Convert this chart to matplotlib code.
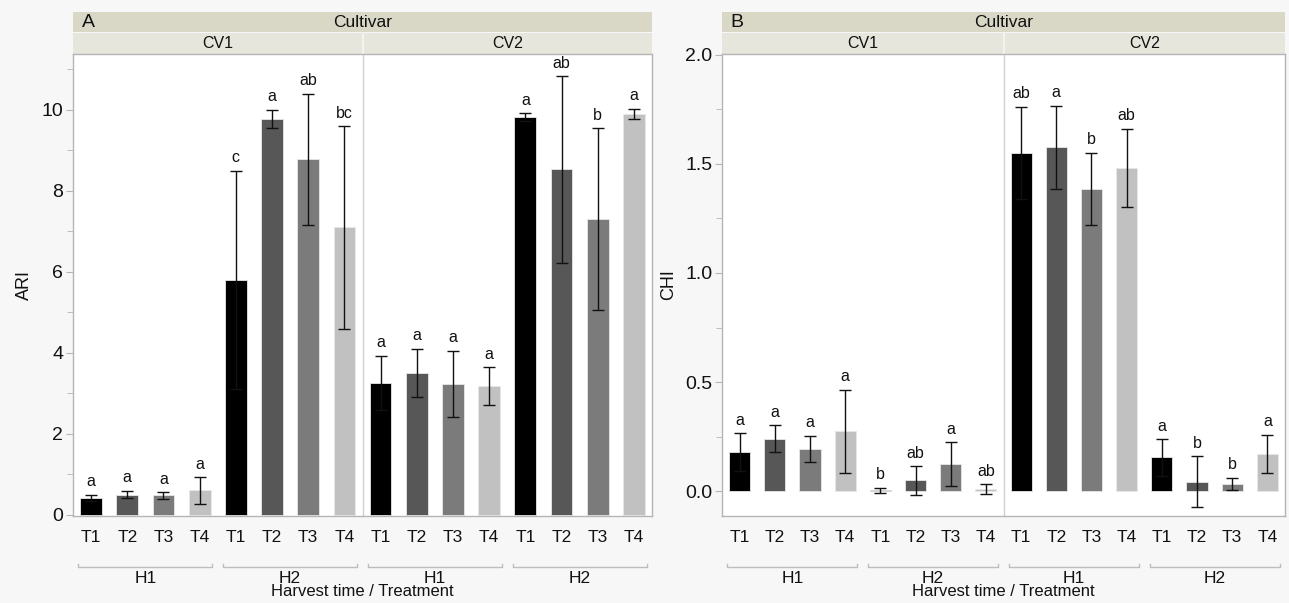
import matplotlib
matplotlib.use("Agg")
import matplotlib.pyplot as plt
from matplotlib.patches import Rectangle
from matplotlib.ticker import MultipleLocator
import numpy as np

plt.rcParams["font.family"] = ["Liberation Sans", "DejaVu Sans"]

treatments = ["T1", "T2", "T3", "T4"]
harvests = ["H1", "H2"]
cultivars = ["CV1", "CV2"]

# order: CV1-H1, CV1-H2, CV2-H1, CV2-H2 (T1..T4 each)
ari_mean = [0.42, 0.50, 0.48, 0.60,
            5.80, 9.78, 8.78, 7.10,
            3.26, 3.50, 3.23, 3.17,
            9.82, 8.53, 7.30, 9.90]
ari_err = [0.07, 0.09, 0.08, 0.33,
           2.70, 0.22, 1.62, 2.50,
           0.67, 0.60, 0.82, 0.47,
           0.10, 2.30, 2.25, 0.13]
ari_letters = ["a", "a", "a", "a",
               "c", "a", "ab", "bc",
               "a", "a", "a", "a",
               "a", "ab", "b", "a"]

chi_mean = [0.180, 0.240, 0.195, 0.275,
            0.005, 0.050, 0.125, 0.010,
            1.550, 1.575, 1.385, 1.480,
            0.155, 0.045, 0.035, 0.170]
chi_err = [0.085, 0.062, 0.060, 0.190,
           0.012, 0.065, 0.100, 0.022,
           0.212, 0.190, 0.165, 0.180,
           0.083, 0.115, 0.028, 0.088]
chi_letters = ["a", "a", "a", "a",
               "b", "ab", "a", "ab",
               "ab", "a", "b", "ab",
               "a", "b", "b", "a"]

bar_colors = ["#000000", "#575757", "#7b7b7b", "#c1c1c1"]
spine_c = "#b5b5b5"
band_top = "#d9d8c7"
band_cv = "#e6e6dc"

fig = plt.figure(figsize=(12.89, 6.03), dpi=100, facecolor="#f7f7f7")

H = 603.0
W = 1289.0
bottom = 1 - 516 / H
top = 1 - 54 / H
axA = fig.add_axes([73 / W, bottom, (652 - 73) / W, top - bottom])
axB = fig.add_axes([722 / W, bottom, (1285 - 722) / W, top - bottom])


def draw_panel(ax, means, errs, letters, ylim, major, minor, fmt, ylabel, tag, pad_pts):
    x = np.arange(16)
    cols = [bar_colors[i % 4] for i in range(16)]
    ax.bar(x, means, width=0.6, color=cols, edgecolor="#e8e8e8", linewidth=0.6, zorder=2)
    ax.errorbar(x, means, yerr=errs, fmt="none", ecolor="#111111", elinewidth=1.0,
                capsize=4, capthick=1.0, zorder=3)
    for i in range(16):
        ax.annotate(letters[i], (x[i], means[i] + errs[i]), xytext=(0, pad_pts),
                    textcoords="offset points", ha="center", va="bottom",
                    fontsize=11.5, color="#111111")

    ax.set_xlim(-0.5, 15.5)
    ax.set_ylim(*ylim)
    ax.set_facecolor("white")
    for s in ax.spines.values():
        s.set_color(spine_c)
        s.set_linewidth(1.0)
    ax.axvline(7.5, color="#d0d0d0", lw=1.0, zorder=1)

    ax.yaxis.set_major_locator(MultipleLocator(major))
    ax.yaxis.set_minor_locator(MultipleLocator(minor))
    ax.yaxis.set_major_formatter(plt.FuncFormatter(lambda v, _: fmt.format(v)))
    ax.tick_params(axis="y", which="major", length=5, color=spine_c, labelsize=14,
                   labelcolor="#111111", pad=2)
    ax.tick_params(axis="y", which="minor", length=4, color=spine_c)
    ax.set_ylabel(ylabel, fontsize=13, color="#111111", labelpad=6)

    ax.set_xticks(x)
    ax.set_xticklabels(treatments * 4, fontsize=12.5, color="#111111")
    ax.tick_params(axis="x", length=0, pad=10)

    # header bands
    trans = ax.transAxes
    ax.add_patch(Rectangle((0, 1.0), 1, 0.046, transform=trans, clip_on=False,
                           facecolor=band_cv, edgecolor="none"))
    ax.add_patch(Rectangle((0, 1.047), 1, 0.044, transform=trans, clip_on=False,
                           facecolor=band_top, edgecolor="none"))
    ax.plot([0.5, 0.5], [1.0, 1.046], transform=trans, clip_on=False,
            color="#f4f4ee", lw=1.5)
    ax.text(0.5, 1.069, "Cultivar", transform=trans, ha="center", va="center",
            fontsize=12.5, color="#111111")
    ax.text(0.015, 1.069, tag, transform=trans, ha="left", va="center",
            fontsize=14, color="#111111")
    for j, cv in enumerate(cultivars):
        ax.text(0.25 + 0.5 * j, 1.023, cv, transform=trans, ha="center", va="center",
                fontsize=11.5, color="#111111")

    # harvest brackets
    btrans = ax.get_xaxis_transform()
    for g in range(4):
        x0 = g * 4 - 0.35
        x1 = g * 4 + 3.35
        yb = -0.110
        ax.plot([x0, x0, x1, x1], [yb + 0.007, yb, yb, yb + 0.007], transform=btrans,
                clip_on=False, color="#bdbdbd", lw=1.0)
        ax.text(g * 4 + 1.5, -0.135, harvests[g % 2], transform=btrans, ha="center",
                va="center", fontsize=12.5, color="#111111")
    ax.text(0.5, -0.163, "Harvest time / Treatment", transform=trans, ha="center",
            va="center", fontsize=12, color="#111111")


draw_panel(axA, ari_mean, ari_err, ari_letters, (-0.03, 11.38), 2, 1, "{:.0f}",
           "ARI", "A", 4)
draw_panel(axB, chi_mean, chi_err, chi_letters, (-0.113, 2.003), 0.5, 0.25, "{:.1f}",
           "CHI", "B", 4)

fig.savefig("out.png", dpi=100, facecolor=fig.get_facecolor())
